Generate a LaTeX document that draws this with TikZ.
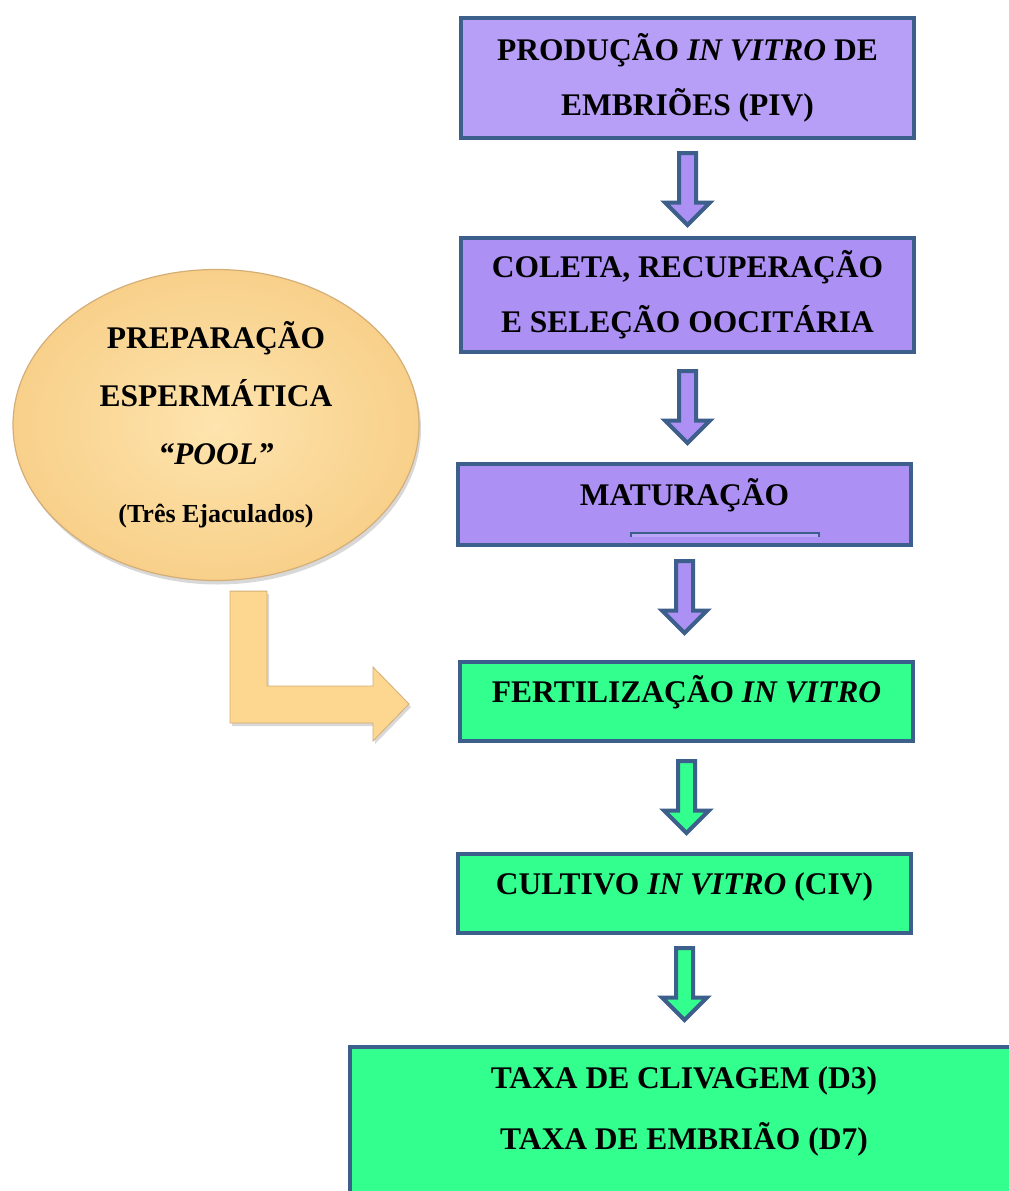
\documentclass[tikz,border=0pt]{standalone}
\usepackage{fontspec}
\setmainfont{Liberation Serif}
\usetikzlibrary{calc,shadows,shapes.geometric}
\definecolor{bordc}{HTML}{3D5F8C}
\definecolor{purpA}{HTML}{B79EF7}
\definecolor{purpB}{HTML}{AD90F4}
\definecolor{purpL}{HTML}{BCA6F8}
\definecolor{greenc}{HTML}{33FF8F}
\definecolor{orangec}{HTML}{FDD690}
\definecolor{orangel}{HTML}{FEE4AE}
\definecolor{oranged}{HTML}{C99A55}
\tikzset{
  stepbox/.style={draw=bordc, line width=4pt, rectangle, minimum width=453pt,
    align=center, font=\bfseries\fontsize{31.5}{55}\selectfont, inner sep=0pt},
  oneline/.style={text height=22pt, text depth=20pt},
  parr/.style={draw=bordc, line width=4pt, fill=purpB, line join=miter},
  garr/.style={draw=bordc, line width=4pt, fill=greenc, line join=miter},
  orarr/.style={draw=oranged!80, line width=0.8pt, fill=orangec, line join=miter,
    drop shadow={opacity=0.3, shadow xshift=2pt, shadow yshift=-3pt}},
}
\newcommand\dnarrow[3]{\draw[#1] ($(#2)+(-8.5,#3)$) -- ++(17,0) -- ++(0,49.5) -- ++(14,0) -- ++(-22.5,22.5) -- ++(-22.5,-22.5) -- ++(14,0) -- cycle;}
\begin{document}
\begin{tikzpicture}[x=1pt,y=-1pt]
\useasboundingbox (0,0) rectangle (1009,1191);
\clip (0,0) rectangle (1009,1191);
\fill[white] (0,0) rectangle (1009,1191);

% boxes
\node[stepbox, fill=purpA, minimum height=120pt] (piv) at (687.5,78)
  {PRODUÇÃO \textit{IN VITRO} DE\\EMBRIÕES (PIV)};
\node[stepbox, fill=purpB, minimum height=114pt] (col) at (687.5,295)
  {COLETA, RECUPERAÇÃO\\E SELEÇÃO OOCITÁRIA};
\node[stepbox, oneline, fill=purpB, minimum height=81pt] (mat) at (684.5,504.5)
  {MATURAÇÃO};
\node[stepbox, oneline, fill=greenc, minimum height=79pt] (fiv) at (686.5,701.5)
  {FERTILIZAÇÃO \textit{IN VITRO}};
\node[stepbox, oneline, fill=greenc, minimum height=79pt] (civ) at (684.5,893.5)
  {CULTIVO \textit{IN VITRO} (CIV)};
\node[stepbox, fill=greenc, minimum width=680pt, minimum height=170pt, anchor=north west] (taxa) at (348,1045) {};
\node[align=center, font=\bfseries\fontsize{31.5}{61}\selectfont] (taxatxt) at (684,1111.5)
  {TAXA DE CLIVAGEM (D3)\\TAXA DE EMBRIÃO (D7)};

% small tab inside maturacao
\fill[purpL] ($(mat.south)+(-53.5,-13)$) rectangle ($(mat.south)+(134.5,-10)$);
\draw[bordc, line width=1.2pt] ($(mat.south)+(-53.5,-10)$) -- ++(0,-4) -- ++(188,0) -- ++(0,4);

% ellipse
\node[ellipse, minimum width=406pt, minimum height=311pt, draw=oranged!80, line width=1.2pt,
  inner color=orangel, outer color=orangec!90!oranged,
  drop shadow={opacity=0.3, shadow xshift=2pt, shadow yshift=-4pt},
  align=center, font=\bfseries\fontsize{31.5}{58}\selectfont] (ell) at (216,425)
  {PREPARAÇÃO\\ESPERMÁTICA\\\textit{“POOL”}\\{\fontsize{26}{58}\selectfont (Três Ejaculados)}};

% vertical arrows
\dnarrow{parr}{piv.south}{13}
\dnarrow{parr}{col.south}{17}
\dnarrow{parr}{mat.south}{14}
\dnarrow{garr}{fiv.south}{18}
\dnarrow{garr}{civ.south}{13}

% bent orange arrow
\draw[orarr] ($(ell.south)+(14,10)$) coordinate (o1) -- ++(37,0)
  |- ($(fiv.west)+(-85,-15.5)$) coordinate (o2) -- ++(0,-19)
  -- ($(fiv.west)+(-49,2.5)$) -- ($(fiv.west)+(-85,39.5)$) -- ++(0,-18)
  -| (o1) -- cycle;
\end{tikzpicture}
\end{document}
